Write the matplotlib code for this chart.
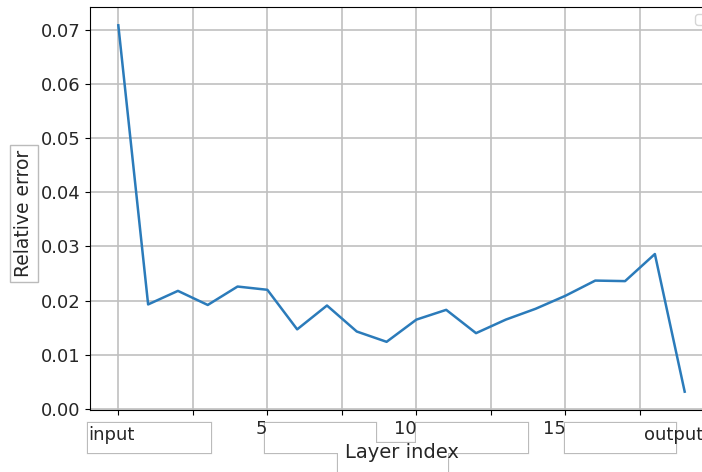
import matplotlib.pyplot as plt
import numpy as np
from matplotlib.patches import Rectangle
from matplotlib.transforms import blended_transform_factory

# data
layers = np.arange(20)
rel_err = [0.0708, 0.0193, 0.0218, 0.0192, 0.0226, 0.0220, 0.0147, 0.0191, 0.0143, 0.0124,
           0.0165, 0.0183, 0.0140, 0.0165, 0.0185, 0.0209, 0.0237, 0.0236, 0.0286, 0.0032]
xticks = np.arange(0, 20, 2.5)
xticklabels = ['', '', '5', '', '10', '', '15', '']
end_labels = ['input', 'output']

W, H = 702, 472
txt = '#262626'
fig = plt.figure(figsize=(W / 100, H / 100), dpi=100)
# axes runs past the right border, like the cropped original
ax = fig.add_axes([90 / W, (H - 410) / H, 623 / W, 403 / H])

ax.plot(layers, rel_err, color='#2b7bba', lw=1.8)
ax.grid(True, color='#c0c0c0', lw=1.2)
ax.set_xticks(xticks)
ax.set_xticklabels(xticklabels, ha='right')
ax.tick_params(labelsize=13, labelcolor=txt)
ax.set_xlabel('Layer index', fontsize=14, color=txt)
ax.set_ylabel('Relative error', fontsize=13.5, color=txt,
              bbox=dict(boxstyle='square,pad=0.25', fc='white', ec='#bbbbbb'))
ax.yaxis.set_label_coords(-0.0907, 0.4876)
ax.legend(handles=[], loc='upper right')

# end labels of the x axis
tr = blended_transform_factory(ax.transData, ax.transAxes)
ax.text(-1.02, -0.0744, end_labels[0], transform=tr, fontsize=13, color=txt,
        ha='left', va='baseline', clip_on=False)
ax.text(19.62, -0.0744, end_labels[1], transform=tr, fontsize=13, color=txt,
        ha='right', va='baseline', clip_on=False)


def px_rect(x0, y0, x1, y1, **kw):
    # rectangle given in pixels from the top left corner
    return Rectangle((x0 / W, 1 - y1 / H), (x1 - x0) / W, (y1 - y0) / H,
                     transform=fig.transFigure, **kw)


# grey label boxes under the x axis (drawn as one outline where they touch)
boxes = [
    (88, 423, 211, 453),
    (265, 423, 376, 453),
    (370, 443, 422, 455),
    (416, 423, 528, 453),
    (338, 450, 448, 480),
    (565, 423, 676, 453),
]
for b in boxes:
    fig.patches.append(px_rect(*b, fc='white', ec='#bbbbbb', lw=1.6, zorder=-2))
for b in boxes:
    fig.patches.append(px_rect(*b, fc='white', ec='none', zorder=-1))

fig.savefig('out.png', dpi=100)
